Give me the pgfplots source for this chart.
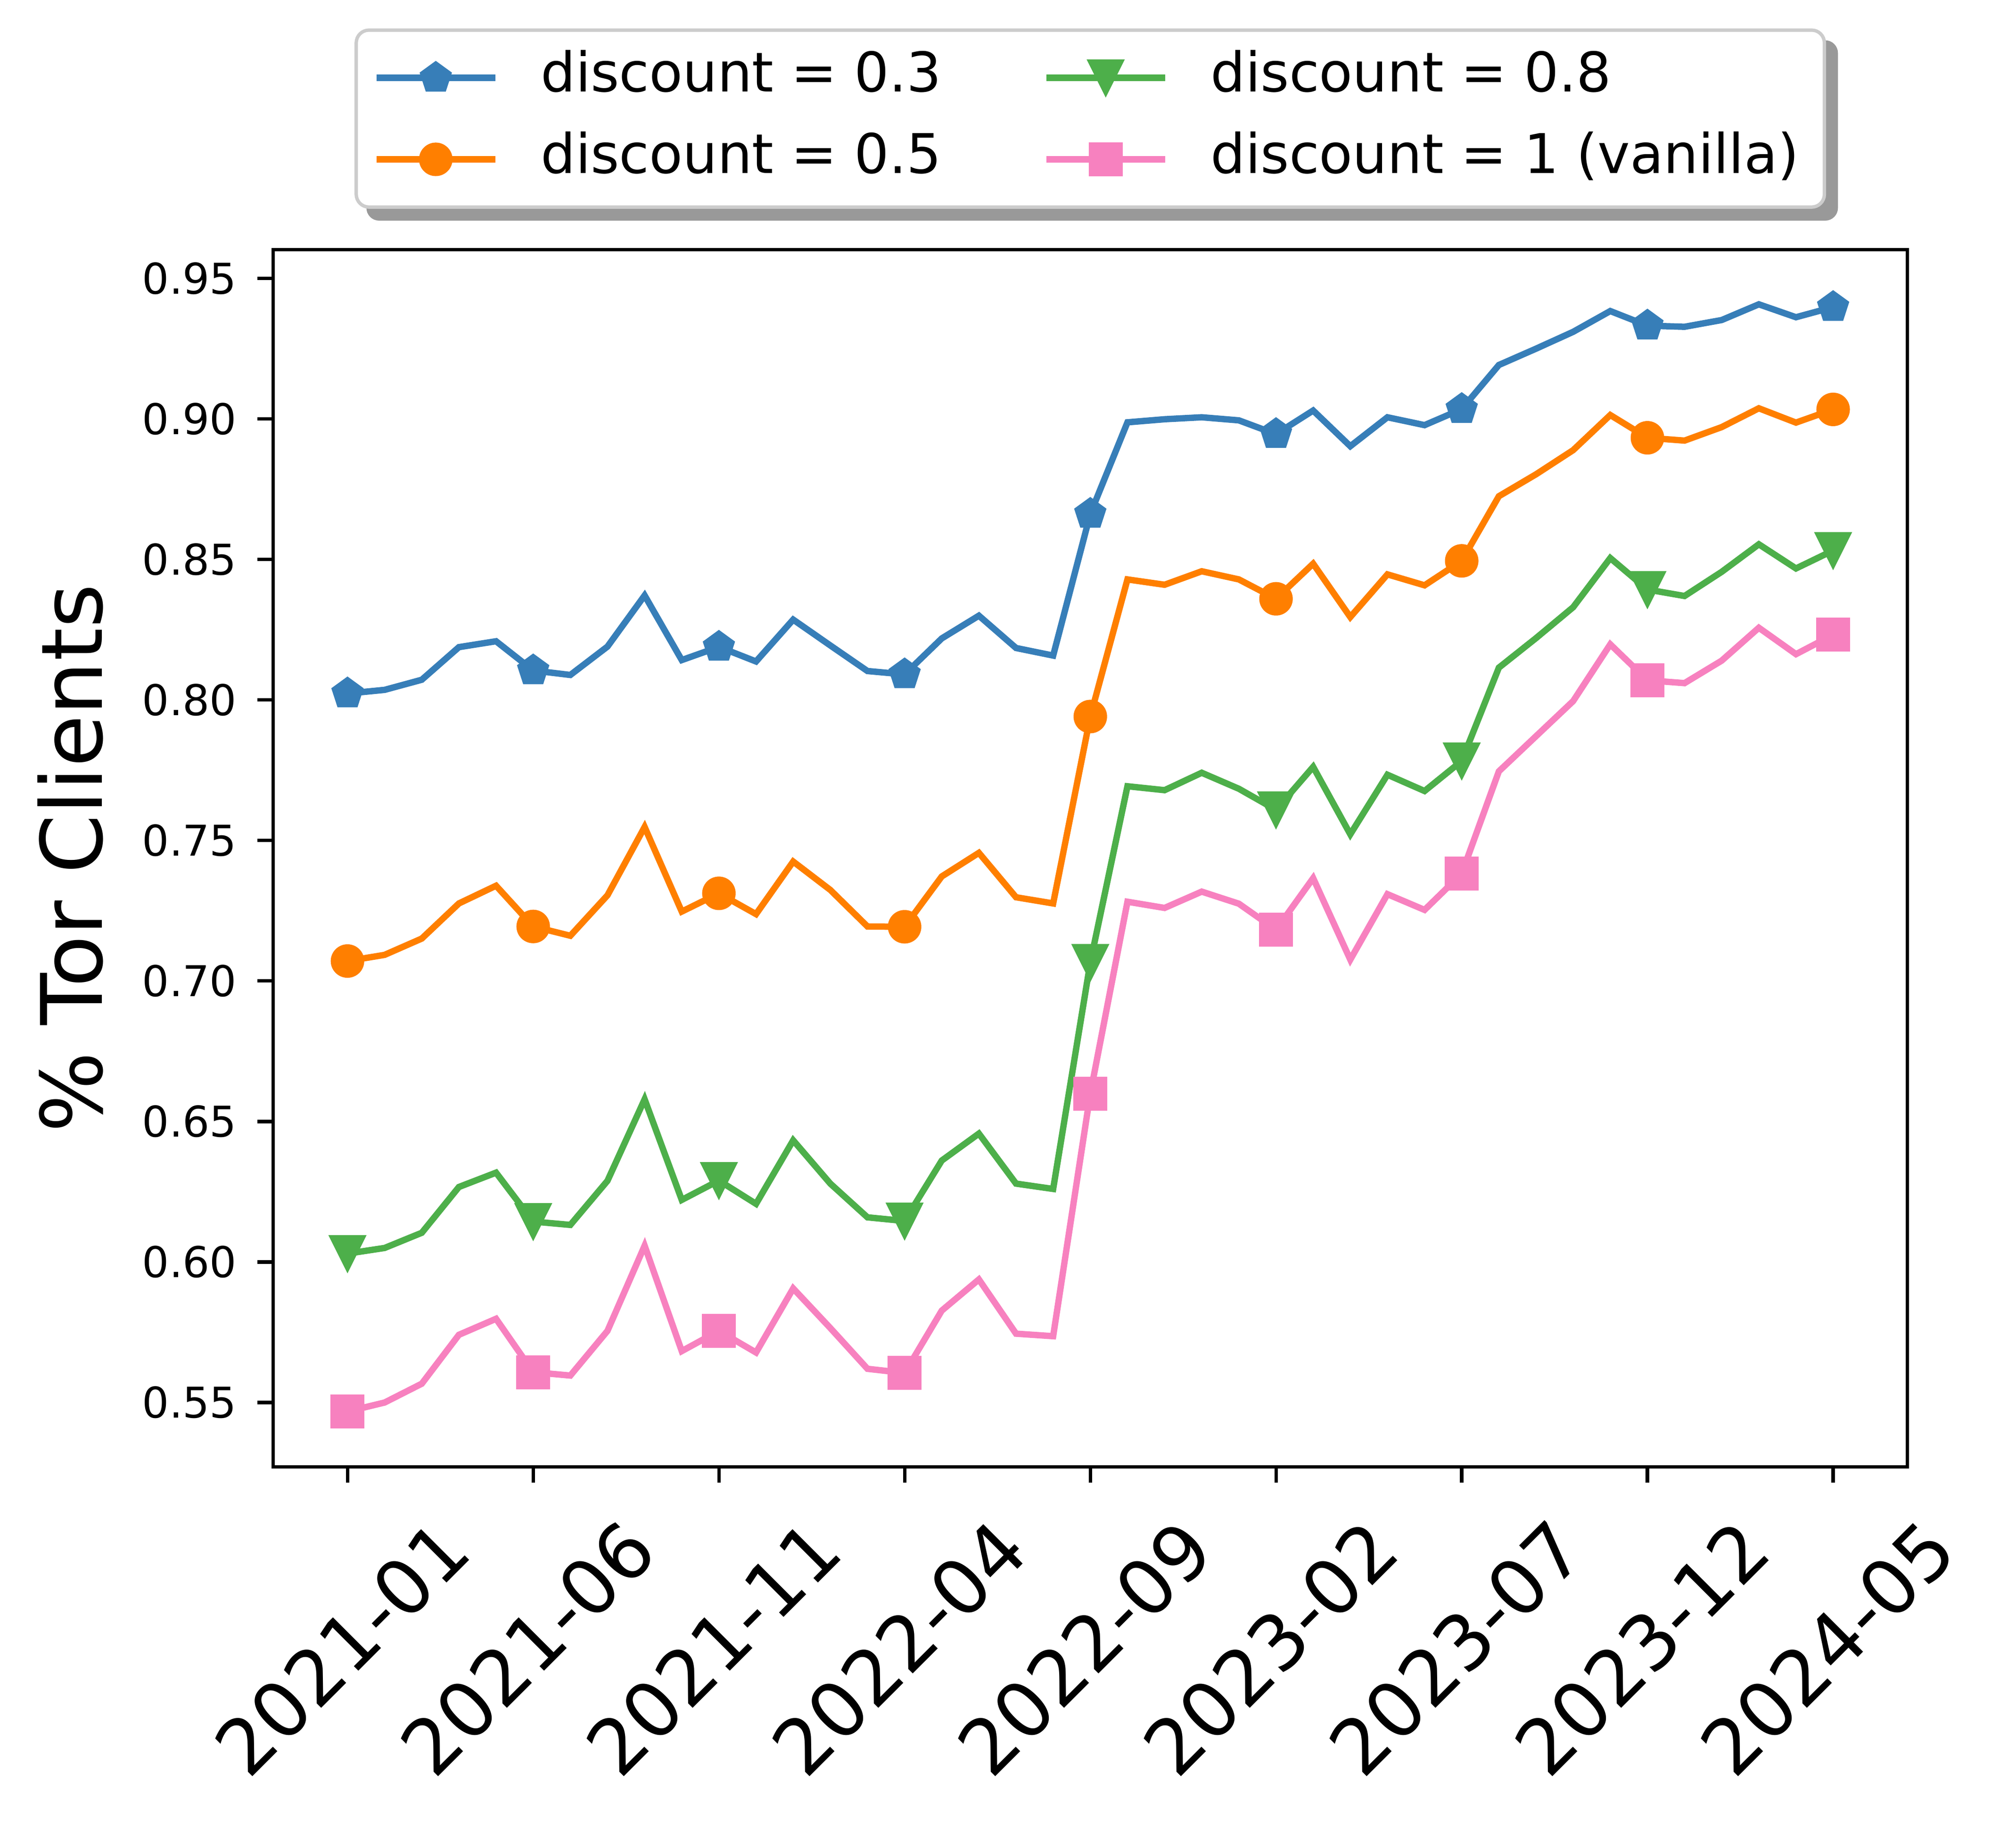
\documentclass[border=0pt]{standalone}
\usepackage{fontspec}
\setmainfont{DejaVu Sans}
\usepackage{pgfplots}
\usepackage{pgfplotstable}
\pgfplotsset{compat=1.18}
\pgfdeclarelayer{background}
\pgfsetlayers{background,main}
\definecolor{c1}{HTML}{377EB8}
\definecolor{c2}{HTML}{FF7F00}
\definecolor{c3}{HTML}{4DAF4A}
\definecolor{c4}{HTML}{F781BF}
\pgfdeclareplotmark{tridown}{%
  \pgfpathmoveto{\pgfqpoint{0pt}{-\pgfplotmarksize}}%
  \pgfpathlineto{\pgfqpoint{\pgfplotmarksize}{\pgfplotmarksize}}%
  \pgfpathlineto{\pgfqpoint{-\pgfplotmarksize}{\pgfplotmarksize}}%
  \pgfpathclose\pgfusepathqfillstroke}

\pgfplotstableread{
x a b c d
0 0.8023 0.7071 0.6030 0.5468
1 0.8036 0.7093 0.6050 0.5500
2 0.8072 0.7151 0.6104 0.5567
3 0.8188 0.7276 0.6267 0.5741
4 0.8209 0.7339 0.6318 0.5798
5 0.8105 0.7194 0.6144 0.5608
6 0.8089 0.7161 0.6132 0.5596
7 0.8190 0.7305 0.6289 0.5755
8 0.8372 0.7548 0.6579 0.6058
9 0.8142 0.7247 0.6221 0.5683
10 0.8189 0.7312 0.6290 0.5755
11 0.8137 0.7238 0.6207 0.5678
12 0.8286 0.7425 0.6433 0.5906
13 0.8194 0.7324 0.6279 0.5765
14 0.8103 0.7194 0.6159 0.5620
15 0.8091 0.7193 0.6146 0.5605
16 0.8219 0.7372 0.6361 0.5827
17 0.8300 0.7456 0.6457 0.5938
18 0.8185 0.7298 0.6279 0.5745
19 0.8158 0.7276 0.6260 0.5736
20 0.8662 0.7941 0.7066 0.6599
21 0.8988 0.8429 0.7693 0.7282
22 0.8999 0.8410 0.7679 0.7260
23 0.9006 0.8458 0.7741 0.7318
24 0.8995 0.8429 0.7684 0.7275
25 0.8946 0.8360 0.7609 0.7182
26 0.9030 0.8485 0.7762 0.7366
27 0.8903 0.8295 0.7522 0.7076
28 0.9006 0.8447 0.7734 0.7309
29 0.8978 0.8408 0.7676 0.7253
30 0.9035 0.8495 0.7783 0.7382
31 0.9192 0.8725 0.8115 0.7746
32 0.9250 0.8803 0.8220 0.7871
33 0.9310 0.8889 0.8330 0.7996
34 0.9384 0.9014 0.8505 0.8198
35 0.9332 0.8933 0.8393 0.8070
36 0.9328 0.8923 0.8370 0.8060
37 0.9352 0.8971 0.8456 0.8140
38 0.9408 0.9038 0.8554 0.8257
39 0.9362 0.8987 0.8468 0.8163
40 0.9398 0.9034 0.8532 0.8232
}\data

\begin{document}
\begin{tikzpicture}
\begin{axis}[
  width=385.2pt, height=286.9pt, scale only axis,
  xmin=-2, xmax=42, ymin=0.5271, ymax=0.9603,
  axis line style={line width=0.8pt},
  tick align=outside, xtick pos=left, ytick pos=left,
  major tick length=3.7pt,
  every tick/.style={black, line width=0.8pt},
  xtick={0,5,10,15,20,25,30,35,40},
  xticklabels={2021-01,2021-06,2021-11,2022-04,2022-09,2023-02,2023-07,2023-12,2024-05},
  xticklabel style={font=\fontsize{18}{20}\selectfont, xshift=-1.3pt, rotate=45, anchor=center},
  xticklabel shift=39pt,
  ytick={0.55,0.60,0.65,0.70,0.75,0.80,0.85,0.90,0.95},
  yticklabel style={font=\fontsize{10}{12}\selectfont, anchor=east, inner sep=0pt,
    /pgf/number format/fixed, /pgf/number format/fixed zerofill, /pgf/number format/precision=2},
  /pgf/number format/assume math mode=true,
  yticklabel shift=4.7pt,
  ylabel={\% Tor Clients},
  every axis y label/.style={at={(rel axis cs:0,0.5)}, xshift=-47.8pt, rotate=90, anchor=center, font=\fontsize{20}{24}\selectfont},
  legend columns=2, transpose legend,
  legend cell align=left,
  legend style={name=leg, at={(0.5,1)}, anchor=south, yshift=9.6pt,
    draw=black!20, line width=0.8pt, rounded corners=3pt, fill=white,
    font=\fontsize{12.9}{15}\selectfont,
    inner xsep=4pt, inner ysep=3pt, row sep=2.7pt,
    nodes={inner sep=2pt, text height=9.5pt, text depth=3pt, anchor=west},
    /tikz/every odd column/.append style={column sep=8pt},
    /tikz/every even column/.append style={column sep=22pt}},
  legend image code/.code={\draw[mark repeat=2, mark phase=2, #1] plot coordinates {(0pt,0pt) (14pt,0pt) (28pt,0pt)};},
]
\addplot[color=c1, line width=1.5pt, mark=pentagon*, mark size=3.7pt, mark repeat=5, mark options={solid, line width=0.5pt}] table[x=x, y=a] {\data};
\addlegendentry{discount = 0.3}
\addplot[color=c2, line width=1.5pt, mark=*, mark size=3.7pt, mark repeat=5, mark options={solid, line width=0.5pt}] table[x=x, y=b] {\data};
\addlegendentry{discount = 0.5}
\addplot[color=c3, line width=1.5pt, mark=tridown, mark size=4.1pt, mark repeat=5, mark options={solid, line width=0.5pt}] table[x=x, y=c] {\data};
\addlegendentry{discount = 0.8}
\addplot[color=c4, line width=1.5pt, mark=square*, mark size=3.75pt, mark repeat=5, mark options={solid, line width=0.5pt}] table[x=x, y=d] {\data};
\addlegendentry{discount = 1 (vanilla)}
\coordinate (sw) at (rel axis cs:0,0);
\coordinate (ne) at (rel axis cs:1,1);
\end{axis}
\begin{pgfonlayer}{background}
\fill[black!40, rounded corners=3pt] ([shift={(2.8pt,-2.8pt)}]leg.south west) rectangle ([shift={(2.8pt,-2.8pt)}]leg.north east);
\end{pgfonlayer}
\pgfresetboundingbox
\path ([shift={(-64.4pt,-86pt)}]sw) rectangle ([shift={(25.6pt,58.8pt)}]ne);
\end{tikzpicture}
\end{document}
